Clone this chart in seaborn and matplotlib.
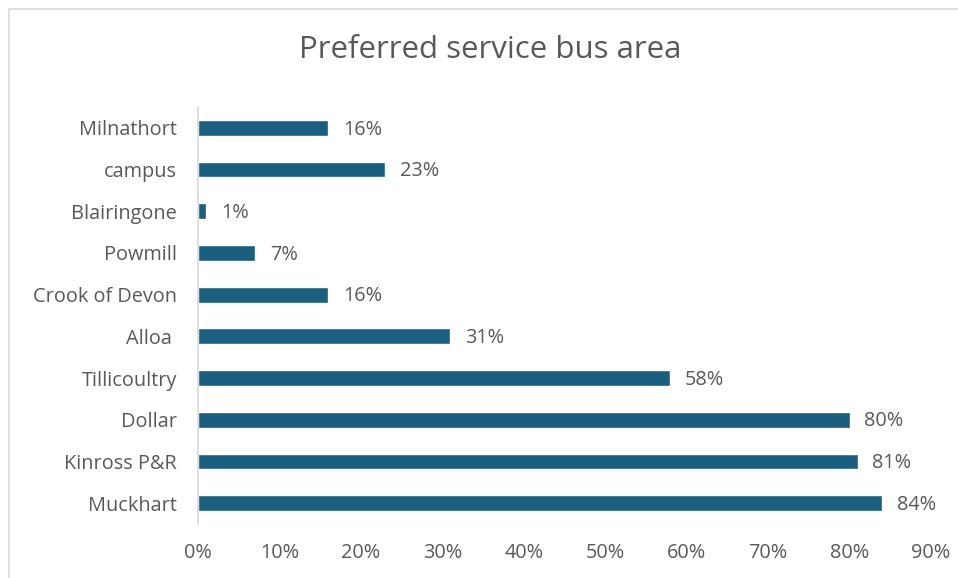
import matplotlib
matplotlib.use("Agg")
import matplotlib.pyplot as plt
from matplotlib.patches import Rectangle
import seaborn as sns
import pandas as pd

# Survey results: share of respondents preferring each service bus area
areas = ["Milnathort", "campus", "Blairingone", "Powmill", "Crook of Devon",
         "Alloa ", "Tillicoultry", "Dollar", "Kinross P&R", "Muckhart"]
shares = [16, 23, 1, 7, 16, 31, 58, 80, 81, 84]
x_ticks = [0, 10, 20, 30, 40, 50, 60, 70, 80, 90]
x_tick_labels = [f"{t}%" for t in x_ticks]
title = "Preferred service bus area"

df = pd.DataFrame({"area": areas, "share": shares})

sns.set_theme(style="white")
plt.rcParams["font.family"] = ["Open Sans", "DejaVu Sans"]

text_color = "#595959"
bar_color = "#1A5E80"
label_size = 14.3

fig = plt.figure(figsize=(9.58, 5.78), dpi=100)
ax = fig.add_axes([198 / 958, 1 - 524 / 578, (931 - 198) / 958, (524 - 107) / 578])

sns.barplot(data=df, x="share", y="area", orient="h", color=bar_color,
            width=0.38, saturation=1, ax=ax)

for patch, val in zip(ax.patches, shares):
    y = patch.get_y() + patch.get_height() / 2
    ax.text(patch.get_width() + 1.8, y + 0.04, f"{val}%", va="center", ha="left",
            fontsize=label_size, color=text_color)

ax.set_xlim(0, 90)
ax.set_ylim(9.5, -0.5)
ax.set_xticks(x_ticks)
ax.set_xticklabels(x_tick_labels)
ax.set_xlabel("")
ax.set_ylabel("")
ax.tick_params(axis="both", length=0, labelsize=label_size, colors=text_color)
ax.tick_params(axis="x", pad=14)
ax.tick_params(axis="y", pad=15)

for side in ["top", "right", "bottom"]:
    ax.spines[side].set_visible(False)
ax.spines["left"].set_color("#D9D9D9")
ax.spines["left"].set_linewidth(1.2)

fig.text(490 / 958, 1 - 50 / 578, title, ha="center", va="center",
         fontsize=22.5, color=text_color)

# Chart frame
fig.patches.append(Rectangle((9 / 958, -0.01), 1.02, 1 - 9 / 578 + 0.01,
                             transform=fig.transFigure, fill=False,
                             edgecolor="#D9D9D9", linewidth=1.2))

fig.savefig("out.png", dpi=100, facecolor="white")
